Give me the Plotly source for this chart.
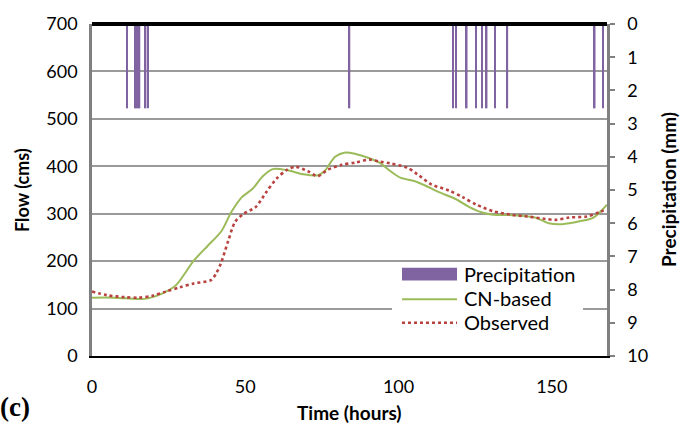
import plotly.graph_objects as go

# ---------------- data ----------------
cn_hours = [0, 7.3, 15.2, 18.6, 23, 27.5, 33.2, 37.7, 42.2, 45.5, 48.9, 52.3, 55.7, 59, 63.5,
            69, 73.6, 75.9, 79.3, 82.6, 86, 90.5, 93.9, 97.3, 100.6, 105.1, 108.5, 113,
            118.6, 123.1, 127.6, 131, 137.7, 144.5, 149, 153.5, 159, 163.6, 168]
cn_flow = [123, 123, 120, 122, 132, 150, 201, 232, 263, 304, 335, 352, 379, 394, 392,
           383, 381, 390, 420, 429, 426, 417, 407, 390, 376, 369, 360, 346,
           331, 314, 302, 298, 297, 292, 280, 278, 284, 292, 319]

obs_hours = [0, 5, 10.7, 15.2, 19.7, 24.2, 28.7, 33.2, 38.8, 40.5, 42.2, 44.4, 46.7, 49.5,
             53.4, 56.8, 60.2, 63.5, 66.3, 70.3, 73.6, 77, 81.5, 86, 90.5, 93.9, 97.3,
             102.9, 106.2, 110.7, 116.4, 120.9, 125.4, 131, 136.6, 142.2, 147.9, 151.2,
             155.7, 161.3, 165.8, 167.5]
obs_flow = [136, 128, 124, 123, 127, 136, 145, 153, 160, 174, 198, 242, 283, 300,
            314, 345, 374, 392, 399, 390, 379, 393, 403, 408, 414, 410, 406,
            397, 383, 362, 349, 335, 319, 305, 298, 294, 289, 287,
            292, 294, 304, 309]

precip_hours = [11.5, 14.0, 14.5, 15.0, 15.5, 17.5, 18.25, 84.0, 117.75, 118.75, 122.25,
                125.25, 127.25, 128.75, 131.5, 135.5, 164.0, 166.75]
precip_mm = [2.54] * len(precip_hours)

flow_ticks = [0, 100, 200, 300, 400, 500, 600, 700]
precip_ticks = list(range(0, 11))
time_ticks = [0, 50, 100, 150]

# ---------------- style ----------------
W, H = 681, 435
L, R, T, B = 92, 607, 17, 356
FONT = "Lato"
GREEN = "#9BBB59"
RED = "#B8423F"
PURPLE = "#8064A2"


def px(x):
    return (x - L) / (R - L)


def py(y):
    return (B - y) / (B - T)


fig = go.Figure()
fig.add_trace(go.Bar(x=precip_hours, y=precip_mm, width=0.5, yaxis="y2",
                     marker=dict(color=PURPLE, line=dict(width=0)), name="Precipitation"))
fig.add_trace(go.Scatter(x=cn_hours, y=cn_flow, mode="lines", name="CN-based",
                         line=dict(color=GREEN, width=2, shape="spline", smoothing=0.8)))
fig.add_trace(go.Scatter(x=obs_hours, y=obs_flow, mode="lines", name="Observed",
                         line=dict(color=RED, width=2.6, dash="dot", shape="spline", smoothing=0.8)))

shapes = [
    # top heavy border
    dict(type="line", xref="paper", yref="paper", x0=0, x1=1, y0=1, y1=1,
         line=dict(color="black", width=4), layer="above"),
    # legend box
    dict(type="rect", xref="paper", yref="paper", x0=px(392), x1=px(583), y0=py(340), y1=py(261),
         fillcolor="white", line=dict(width=0), layer="above"),
    dict(type="rect", xref="paper", yref="paper", x0=px(402), x1=px(457), y0=py(279), y1=py(266),
         fillcolor=PURPLE, line=dict(width=0), layer="above"),
    dict(type="line", xref="paper", yref="paper", x0=px(402), x1=px(457), y0=py(298), y1=py(298),
         line=dict(color=GREEN, width=2), layer="above"),
    dict(type="line", xref="paper", yref="paper", x0=px(402), x1=px(457), y0=py(322), y1=py(322),
         line=dict(color=RED, width=2.6, dash="dot"), layer="above"),
]

legend_names = ["Precipitation", "CN-based", "Observed"]
legend_y = [272, 297, 321]
annotations = []
for name, yy in zip(legend_names, legend_y):
    annotations.append(dict(text=name, xref="paper", yref="paper", x=px(462), y=py(yy),
                            xanchor="left", yanchor="middle", showarrow=False,
                            font=dict(family=FONT, size=20, color="black")))

annotations += [
    dict(text="<b>Time (hours)</b>", xref="paper", yref="paper", x=0.5, y=py(414),
         xanchor="center", yanchor="middle", showarrow=False,
         font=dict(family=FONT, size=19, color="black")),
    dict(text="<b>Flow (cms)</b>", xref="paper", yref="paper", x=px(22), y=0.5,
         xanchor="center", yanchor="middle", showarrow=False, textangle=-90,
         font=dict(family=FONT, size=18, color="black")),
    dict(text="<b>Precipitation (mm)</b>", xref="paper", yref="paper", x=px(668), y=0.5,
         xanchor="center", yanchor="middle", showarrow=False, textangle=-90,
         font=dict(family=FONT, size=19, color="black")),
    dict(text="<b>(c)</b>", xref="paper", yref="paper", x=px(15), y=py(408),
         xanchor="center", yanchor="middle", showarrow=False,
         font=dict(family="Liberation Serif", size=27, color="black")),
]

fig.update_layout(
    width=W, height=H,
    margin=dict(l=L, r=W - R, t=T, b=H - B, pad=0),
    paper_bgcolor="white", plot_bgcolor="white",
    showlegend=False,
    shapes=shapes, annotations=annotations,
    font=dict(family=FONT, size=18, color="black"),
    xaxis=dict(range=[0, 168], tickvals=time_ticks, showgrid=False, zeroline=False,
               showline=True, linecolor="black", linewidth=2, ticks="outside", ticklen=0,
               ticklabelstandoff=13, tickfont=dict(family=FONT, size=18)),
    yaxis=dict(range=[0, 700], tickvals=flow_ticks, showgrid=True, gridcolor="#9A9A9A",
               gridwidth=1.6, zeroline=False, showline=True, linecolor="#808080", linewidth=2.5,
               ticks="outside", ticklen=0, ticklabelstandoff=8, tickfont=dict(family=FONT, size=18)),
    yaxis2=dict(range=[10, 0], tickvals=precip_ticks, overlaying="y", side="right",
                showgrid=False, zeroline=False, showline=True, linecolor="#808080", linewidth=2.5,
                ticks="outside", ticklen=5, tickcolor="#808080", tickwidth=1.5,
                ticklabelstandoff=9, tickfont=dict(family=FONT, size=18)),
)

fig.write_html("out.html")
